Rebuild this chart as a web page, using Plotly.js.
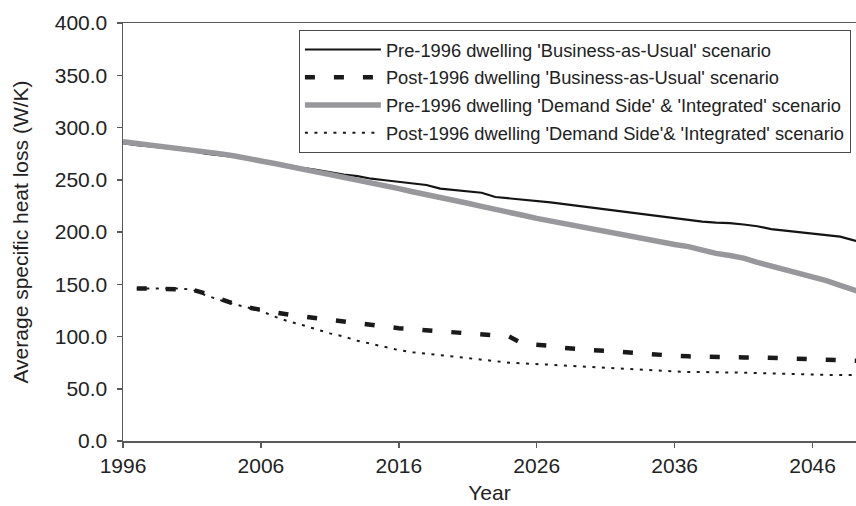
<!DOCTYPE html>
<html>
<head>
<meta charset="utf-8">
<script src="https://cdn.plot.ly/plotly-3.0.1.min.js"></script>
<style>
  html, body { margin: 0; padding: 0; background: #fff; }
  #chart { width: 856px; height: 506px; }
</style>
</head>
<body>
<div id="chart"></div>
<script>
// Years for the pre-1996 stock (from 1996) and the post-1996 stock (from 1997)
const yearsPre = [];
for (let y = 1996; y <= 2050; y++) yearsPre.push(y);
const yearsPost = yearsPre.slice(1);

// Average specific heat loss (W/K)
const preBAU = [
  285, 283, 282, 280.5, 279, 277.5, 275, 273.5, 272.5, 270.5,
  268.5, 266, 263.5, 261.5, 259.5, 257, 255, 253.5, 251, 249.5,
  248, 246.5, 245, 241.5, 240, 238.8, 237.6, 233.5, 232.3, 231.1,
  230, 228.3, 226.6, 224.9, 223.2, 221.5, 219.8, 218.1, 216.4, 214.8,
  213.2, 211.6, 210, 209, 208.5, 207.2, 205.5, 202.8, 201.3, 199.8,
  198.4, 197, 195.5, 192, 189
];
const preDemand = [
  286.5, 285, 283.5, 282, 280.5, 279, 276.5, 275, 273, 270,
  268, 265.5, 262.5, 260.5, 257.5, 255, 252.5, 250, 247.5, 245,
  241.5, 238.5, 236, 233, 230.5, 227.5, 224.5, 222, 219, 216,
  213, 210.5, 208, 205.5, 202.5, 200, 197, 194.5, 192, 189.5,
  188, 186, 182.5, 179.5, 177.5, 175, 171, 167.5, 164.5, 161,
  157.5, 153.5, 149, 144.5, 140
];
const postBAU = [
  146, 146, 146, 146, 145, 141, 136, 131.5, 128,
  125, 123, 121, 119, 117.5, 116, 114.3, 112.5, 111, 109.5,
  108, 107, 106, 105, 104.2, 103.5, 102.5, 102, 100, 93,
  92, 91.2, 89, 87.5, 87, 86.4, 85.3, 84.5, 83.5, 82.3,
  81.5, 81, 80.5, 80, 80, 80, 80, 79.5, 79, 79,
  79, 78.5, 77.5, 77, 76.5
];
const postDemand = [
  146, 146, 146, 146, 145, 139.5, 135, 131, 128,
  124.5, 119, 114.5, 111, 107, 103, 100, 96, 93, 90,
  87, 85, 83.5, 82, 80.5, 79, 77.5, 76, 75, 74.2,
  73.8, 73, 72.2, 71.5, 71, 70, 69, 68.5, 68, 67.5,
  66.5, 66, 66, 65.5, 65.5, 65.4, 65, 65, 64.5, 63.5,
  63.2, 63.2, 63.2, 63, 63
];

const seriesNames = [
  "Pre-1996 dwelling 'Business-as-Usual' scenario",
  "Post-1996 dwelling 'Business-as-Usual' scenario",
  "Pre-1996 dwelling 'Demand Side' & 'Integrated' scenario",
  "Post-1996 dwelling 'Demand Side'& 'Integrated' scenario"
];

const yTicks = [0, 50, 100, 150, 200, 250, 300, 350, 400];
const xTicks = [1996, 2006, 2016, 2026, 2036, 2046];

const FONT = 'Liberation Sans, Arial, sans-serif';
const TEXT = '#222222';
const AXIS = '#5a5a5a';

const traces = [
  {
    x: yearsPre, y: preBAU, name: seriesNames[0], legendgroup: 'a',
    mode: 'lines', line: { color: '#141414', width: 2.2 }
  },
  {
    x: yearsPost, y: postBAU, name: seriesNames[1], legendgroup: 'b',
    mode: 'lines', line: { color: '#1a1a1a', width: 4.5, dash: '10px,19px' }
  },
  {
    x: yearsPre, y: preDemand, name: seriesNames[2], legendgroup: 'c',
    mode: 'lines', line: { color: '#98989c', width: 5.5 }
  },
  {
    x: yearsPost, y: postDemand, name: seriesNames[3], legendgroup: 'd',
    mode: 'lines', line: { color: '#1a1a1a', width: 2, dash: '3px,6.5px' }
  }
];

const layout = {
  width: 856,
  height: 506,
  margin: { l: 123, r: 0, t: 23, b: 65 },
  paper_bgcolor: '#ffffff',
  plot_bgcolor: '#ffffff',
  font: { family: FONT, color: TEXT, size: 21 },
  showlegend: true,
  legend: {
    x: 0.240, y: 0.983, xanchor: 'left', yanchor: 'top',
    bgcolor: '#ffffff', bordercolor: '#4a4a4a', borderwidth: 1,
    font: { family: FONT, size: 18.3, color: TEXT },
    traceorder: 'grouped', tracegroupgap: 1, itemwidth: 76
  },
  xaxis: {
    range: [1996, 2049.15],
    tickmode: 'array', tickvals: xTicks, ticktext: xTicks.map(String),
    ticks: 'outside', ticklen: 5, tickwidth: 1.5, tickcolor: AXIS,
    showline: true, linecolor: AXIS, linewidth: 1.5, mirror: true,
    showgrid: false, zeroline: false,
    tickfont: { family: FONT, size: 21, color: TEXT },
    title: { text: 'Year', font: { family: FONT, size: 21, color: TEXT }, standoff: 9 }
  },
  yaxis: {
    range: [0, 400],
    tickmode: 'array', tickvals: yTicks, ticktext: yTicks.map(v => v.toFixed(1)),
    ticks: 'outside', ticklen: 5, tickwidth: 1.5, tickcolor: AXIS,
    ticklabelstandoff: 5,
    showline: true, linecolor: AXIS, linewidth: 1.5,
    showgrid: false, zeroline: false,
    tickfont: { family: FONT, size: 21, color: TEXT },
    title: { text: 'Average specific heat loss (W/K)', font: { family: FONT, size: 21, color: TEXT }, standoff: 20 }
  }
};

Plotly.newPlot('chart', traces, layout, { displayModeBar: false, staticPlot: true });
</script>
</body>
</html>
